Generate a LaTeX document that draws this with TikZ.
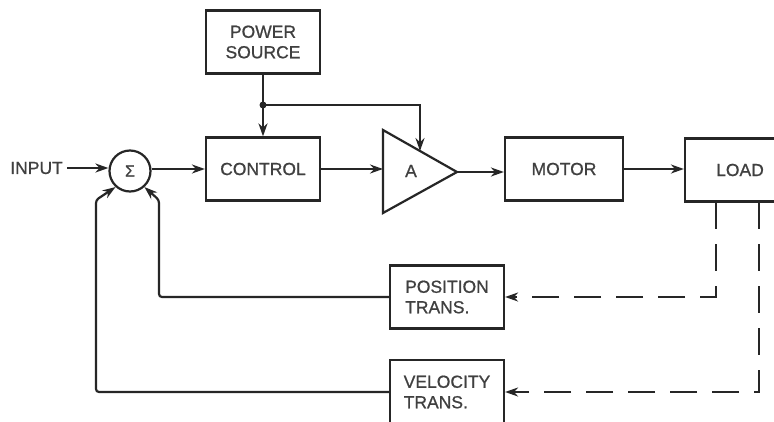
\documentclass[tikz,border=0pt]{standalone}
\usepackage{fontspec}
\setmainfont{Liberation Sans}
\newfontfamily\tf{Liberation Sans}[FakeBold=0.8]
\usetikzlibrary{arrows.meta,calc}
\begin{document}
\begin{tikzpicture}[x=1pt,y=-1pt,
  ln/.style={draw=black!85, line width=2.2pt},
  arr/.style={ln,-{Stealth[length=13pt,width=9pt]}},
  dsh/.style={arr,dash pattern=on 27pt off 15pt},
  blk/.style={ln, rectangle, minimum width=114pt, minimum height=63pt, inner sep=0pt,
     text=black!75, font=\tf\fontsize{17.5}{20.5}\selectfont, align=center},
  lbl/.style={text=black!75, font=\tf\fontsize{17.5}{20.5}\selectfont, inner sep=0pt}]
\clip (0,0) rectangle (774,421);
\fill[white] (0,0) rectangle (774,421);
% blocks
\node[blk] (ps) at (263,42) {POWER\\SOURCE};
\node[blk] (ctrl) at (263,169) {CONTROL};
\node[blk, minimum width=118pt] (motor) at (564,169) {MOTOR};
\node[blk, minimum width=120pt] (load) at (745,170) {};
\node[lbl] (loadt) at (740,170) {LOAD};
\node[blk, align=left] (pos) at (447,297) {POSITION\\TRANS.};
\node[blk, align=left, minimum height=64pt] (vel) at (447,392) {VELOCITY\\TRANS.};
\node[ln, circle, minimum size=41pt, inner sep=0pt, text=black!75] (sig) at (130,171) {\tf\fontsize{16}{16}\selectfont Σ};
\node[lbl, anchor=east] (inp) at (63,168) {INPUT};
% amplifier
\coordinate (at) at (383,130);
\coordinate (ab) at (383,213);
\coordinate (ao) at (457,172);
\draw[ln, line join=miter] (at) -- (ao) -- (ab) -- cycle;
\node[lbl] (amp) at (411,171) {A};
\coordinate (ain) at (383,169);
\coordinate (atop) at (420,151);
\coordinate (jn) at (263,105);
% connectors
\draw[arr] (inp.east) ++(4,0) coordinate (inpe) -- (sig.west |- inpe);
\draw[arr] (sig.east |- ctrl.west) -- (ctrl.west);
\draw[ln] (ps.south) -- (jn);
\draw[arr] (jn) -- (ctrl.north);
\fill[black!85] (jn) circle (3.5pt);
\draw[arr] (jn) -| (atop);
\draw[arr] (ctrl.east) -- (ain);
\draw[arr] (ao) -- (motor.west |- ao);
\draw[arr] (motor.east) -- (load.west |- motor.east);
% dashed feedback
\coordinate (d1) at (716,202);
\coordinate (d2) at (759,202);
\draw[dsh] (d1) -- (d1 |- pos.east) -- (pos.east);
\draw[dsh] (d2) -- (d2 |- vel.east) -- (vel.east);
% solid feedback
\coordinate (p1) at (159,297);
\coordinate (p2) at (159,200);
\coordinate (v1) at (96,392);
\coordinate (v2) at (96,200);
\draw[arr, rounded corners=3pt] (pos.west) -- (p1) -- (p2) -- (sig.-48);
\draw[arr, rounded corners=3pt] (vel.west) -- (v1) -- (v2) -- (sig.228);
\end{tikzpicture}
\end{document}
